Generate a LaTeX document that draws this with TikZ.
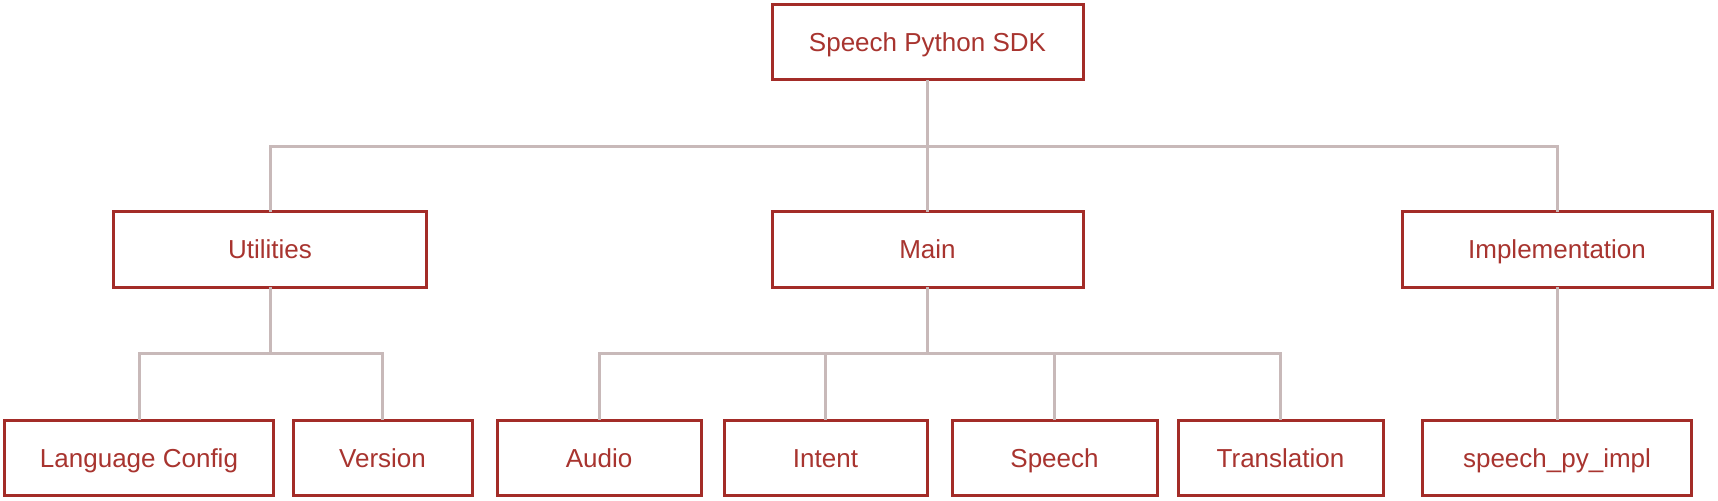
\documentclass[tikz,border=0pt]{standalone}
\usepackage{fontspec}
\setmainfont{Liberation Sans}
\definecolor{boxred}{RGB}{163,44,40}
\definecolor{txtred}{RGB}{168,52,47}
\definecolor{linegray}{RGB}{200,185,185}
\begin{document}
\begin{tikzpicture}[x=1bp,y=-1bp,
  box/.style={draw=boxred, line width=3bp, fill=white, inner sep=0pt, outer sep=0pt,
    text=txtred, font=\fontsize{26bp}{30bp}\selectfont, minimum height=75bp,
    text height=20.5bp, text depth=1.5bp},
  conn/.style={draw=linegray, line width=3bp}]
\useasboundingbox (0,0) rectangle (1718,501);
% top
\node[box, minimum width=311bp] (root) at (927.5,42.5) {Speech Python SDK};
% middle row
\node[box, minimum width=312bp] (util) at (270,249.5) {Utilities};
\node[box, minimum width=311bp] (main) at (927.5,249.5) {Main};
\node[box, minimum width=310bp] (impl) at (1557,249.5) {Implementation};
% bottom row
\node[box, minimum width=268bp] (lang) at (139,457.5) {Language Config};
\node[box, minimum width=179bp] (ver) at (382.5,457.5) {Version};
\node[box, minimum width=204bp] (audio) at (599,457.5) {Audio};
\node[box, minimum width=203bp] (intent) at (825.5,457.5) {Intent};
\node[box, minimum width=205bp] (speech) at (1054.5,457.5) {Speech};
\node[box, minimum width=205bp] (trans) at (1280.5,457.5) {Translation};
\node[box, minimum width=269bp] (spi) at (1557,457.5) {speech\_py\_impl};
% bus coordinates
\coordinate (tbus) at (927.5,147);
\coordinate (ubus) at (270,353);
\coordinate (mbus) at (927.5,353);
% connectors
\draw[conn] (root.south) -- (tbus);
\draw[conn] (util.north) -- (util.north |- tbus) -- (impl.north |- tbus) -- (impl.north);
\draw[conn] (tbus) -- (main.north);
\draw[conn] (util.south) -- (ubus);
\draw[conn] (lang.north) -- (lang.north |- ubus) -- (ver.north |- ubus) -- (ver.north);
\draw[conn] (main.south) -- (mbus);
\draw[conn] (audio.north) -- (audio.north |- mbus) -- (trans.north |- mbus) -- (trans.north);
\draw[conn] (intent.north) -- (intent.north |- mbus);
\draw[conn] (speech.north) -- (speech.north |- mbus);
\draw[conn] (impl.south) -- (spi.north);
\end{tikzpicture}
\end{document}
